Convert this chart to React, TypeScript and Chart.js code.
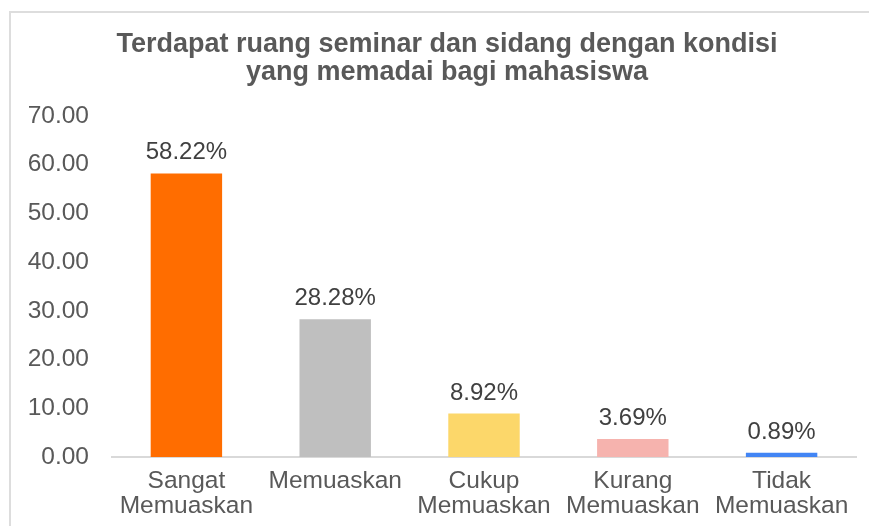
import React, { useEffect, useRef } from "react";
import { Chart, registerables } from "chart.js";

Chart.register(...registerables);

const categories: string[][] = [
  ["Sangat", "Memuaskan"],
  ["Memuaskan"],
  ["Cukup", "Memuaskan"],
  ["Kurang", "Memuaskan"],
  ["Tidak", "Memuaskan"],
];
const values: number[] = [58.22, 28.28, 8.92, 3.69, 0.89];
const barColors: string[] = ["#FF6D00", "#BFBFBF", "#FCD76A", "#F6B3AE", "#4285F4"];
const titleLines: string[] = [
  "Terdapat ruang seminar dan sidang dengan kondisi",
  "yang memadai bagi mahasiswa",
];
const yMin = 0;
const yMax = 70;
const yStep = 10;

const FONT = "'Liberation Sans', Arial, sans-serif";

const dataLabelPlugin = {
  id: "dataLabels",
  afterDatasetsDraw(chart: any) {
    const ctx = chart.ctx;
    const meta = chart.getDatasetMeta(0);
    ctx.save();
    ctx.font = `24px ${FONT}`;
    ctx.fillStyle = "#404040";
    ctx.textAlign = "center";
    ctx.textBaseline = "alphabetic";
    meta.data.forEach((bar: any, i: number) => {
      ctx.fillText(values[i].toFixed(2) + "%", bar.x, bar.y - 14);
    });
    ctx.restore();
  },
};

export default function App() {
  const ref = useRef<HTMLCanvasElement | null>(null);
  useEffect(() => {
    if (!ref.current) return;
    const chart = new Chart(ref.current, {
      type: "bar",
      data: {
        labels: categories,
        datasets: [
          {
            data: values,
            backgroundColor: barColors,
            barPercentage: 0.48,
            categoryPercentage: 1,
          },
        ],
      },
      options: {
        responsive: false,
        animation: false,
        layout: { padding: 0 },
        plugins: {
          legend: { display: false },
          tooltip: { enabled: false },
          title: {
            display: true,
            text: titleLines,
            color: "#595959",
            font: { family: FONT, size: 27, weight: "bold", lineHeight: 28 / 27 },
            padding: { top: 18, bottom: 29 },
          },
        },
        scales: {
          x: {
            grid: { display: false, drawTicks: false },
            border: { display: true, color: "#D9D9D9", width: 2 },
            ticks: {
              color: "#595959",
              font: { family: FONT, size: 24.5, lineHeight: 25 / 24.5 },
              padding: 12,
              maxRotation: 0,
              autoSkip: false,
            },
            afterFit: (s: any) => {
              s.height = 69;
            },
          },
          y: {
            min: yMin,
            max: yMax,
            grid: { display: false, drawTicks: false },
            border: { display: false },
            ticks: {
              stepSize: yStep,
              color: "#595959",
              font: { family: FONT, size: 24.5 },
              padding: 23,
              callback: (v: any) => Number(v).toFixed(2),
            },
            afterFit: (s: any) => {
              s.width = 101;
            },
          },
          yRight: {
            position: "right",
            display: true,
            min: yMin,
            max: yMax,
            grid: { display: false, drawTicks: false },
            border: { display: false },
            ticks: { display: false },
            afterFit: (s: any) => {
              s.width = 27;
            },
          },
        },
      },
      plugins: [dataLabelPlugin],
    });
    return () => chart.destroy();
  }, []);

  return (
    <div
      style={{
        position: "fixed",
        left: 0,
        top: 0,
        width: 869,
        height: 526,
        overflow: "hidden",
        background: "#fff",
      }}
    >
      <div
        style={{
          position: "absolute",
          left: 9,
          top: 11,
          width: 876,
          height: 560,
          border: "2px solid #DDDDDD",
          boxSizing: "border-box",
        }}
      >
        <canvas ref={ref} width={872} height={513} style={{ display: "block" }} />
      </div>
    </div>
  );
}
